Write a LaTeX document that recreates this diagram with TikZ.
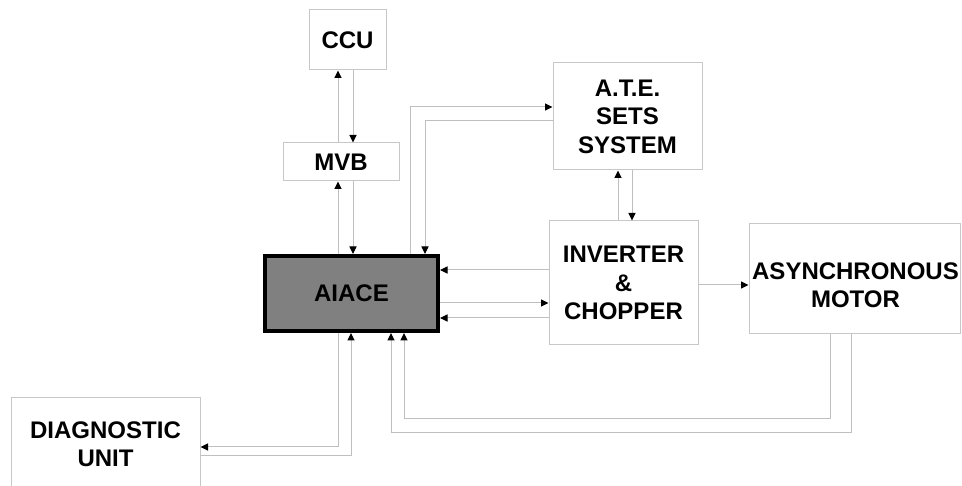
\documentclass[tikz,border=0pt]{standalone}
\usepackage{fontspec}
\setmainfont{Liberation Sans}
\usetikzlibrary{arrows.meta}
\begin{document}
\begin{tikzpicture}[x=1pt,y=-1pt,
  box/.style={draw=black!22, line width=1pt, fill=white, align=center, inner sep=0pt,
    font=\bfseries\fontsize{24}{28.5}\selectfont},
  mainbox/.style={draw=black, line width=4pt, fill=black!50, align=center, inner sep=0pt,
    font=\bfseries\fontsize{24}{28.5}\selectfont},
  conn/.style={draw=black!25, line width=1pt, -{Triangle[length=7.5pt,width=7pt,color=black]}},
  plainline/.style={draw=black!25, line width=1pt}]
\useasboundingbox (0,0) rectangle (962,486);
\clip (0,0) rectangle (962,486);
% nodes
\node[box, minimum width=77pt, minimum height=60pt] (ccu) at (347.5,40) {CCU};
\node[box, minimum width=116pt, minimum height=38pt] (mvb) at (341,162) {MVB};
\node[box, minimum width=149pt, minimum height=107pt] (ate) at (627.5,116.5) {A.T.E.\\SETS\\SYSTEM};
\node[mainbox, minimum width=173pt, minimum height=75pt] (aiace) at (351.5,293.5) {AIACE};
\node[box, minimum width=149pt, minimum height=124pt] (inv) at (623.5,283) {INVERTER\\\&\\CHOPPER};
\node[box, minimum width=211pt, minimum height=110pt] (motor) at (854.5,279) {};
\node[font=\bfseries\fontsize{24}{28.5}\selectfont, align=center, inner sep=0pt] (motortext) at (855.5,285) {ASYNCHRONOUS\\MOTOR};
\node[box, minimum width=189pt, minimum height=92pt] (diag) at (105.5,444) {DIAGNOSTIC\\UNIT};
% CCU <-> MVB
\draw[conn] (338,0 |- mvb.north) -- (338,0 |- ccu.south);
\draw[conn] (353,0 |- ccu.south) -- (353,0 |- mvb.north);
% MVB <-> AIACE
\draw[conn] (338,0 |- aiace.north) -- (338,0 |- mvb.south);
\draw[conn] (353,0 |- mvb.south) -- (353,0 |- aiace.north);
% AIACE <-> ATE
\draw[conn] (410,0 |- aiace.north) |- (ate.west |- 0,107);
\draw[conn] (ate.west |- 0,121) -| (425,0 |- aiace.north);
% ATE <-> Inverter
\draw[conn] (618,0 |- inv.north) -- (618,0 |- ate.south);
\draw[conn] (632,0 |- ate.south) -- (632,0 |- inv.north);
% Inverter <-> AIACE
\draw[conn] (inv.west |- 0,270) -- (aiace.east |- 0,270);
\draw[conn] (aiace.east |- 0,303) -- (inv.west |- 0,303);
\draw[conn] (inv.west |- 0,318) -- (aiace.east |- 0,318);
% Inverter -> Motor
\draw[conn] (inv.east |- 0,285) -- (motor.west |- 0,285);
% Motor -> AIACE
\draw[conn] (830,0 |- motor.south) -- (830,419) -| (404,0 |- aiace.south);
\draw[conn] (851,0 |- motor.south) -- (851,433) -| (391,0 |- aiace.south);
% AIACE <-> Diagnostic
\draw[conn] (338,0 |- aiace.south) |- (diag.east |- 0,447);
\draw[conn] (diag.east |- 0,456) -| (351,0 |- aiace.south);
\end{tikzpicture}
\end{document}
